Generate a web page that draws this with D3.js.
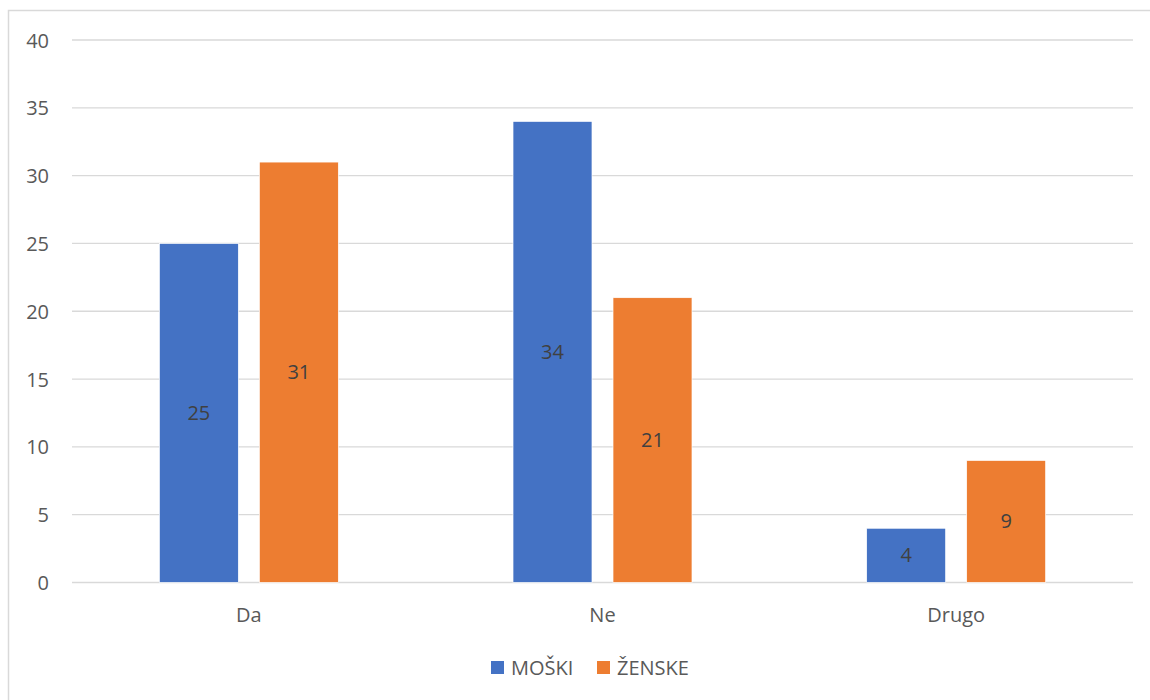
<!DOCTYPE html>
<html><head><meta charset="utf-8">
<script src="https://cdn.jsdelivr.net/npm/d3@7"></script>
<style>
body{margin:0;background:#fff;}
text{font-family:"Open Sans",sans-serif;}
</style></head>
<body><svg id="c" width="1150" height="700"></svg>
<script>
const categories = ["Da", "Ne", "Drugo"];
const seriesNames = ["MOŠKI", "ŽENSKE"];
const moski = [25, 34, 4];
const zenske = [31, 21, 9];
const yTicks = [0, 5, 10, 15, 20, 25, 30, 35, 40];
const colors = ["#4472C4", "#ED7D31"];

const svg = d3.select("#c");
// outer chart border
svg.append("rect").attr("x", 8.5).attr("y", 10.5).attr("width", 1160).attr("height", 720)
  .attr("fill", "none").attr("stroke", "#d9d9d9").attr("stroke-width", 1.5);

const L = 72, R = 1133, T = 40, B = 582.5;
const x = d3.scaleBand().domain(categories).range([L, R]).paddingInner(0).paddingOuter(0);
const y = d3.scaleLinear().domain([0, 40]).range([B, T]);

// gridlines
svg.append("g").selectAll("line").data(yTicks).join("line")
  .attr("x1", L).attr("x2", R).attr("y1", d => y(d)).attr("y2", d => y(d))
  .attr("stroke", "#d9d9d9").attr("stroke-width", 1.3);

// y axis labels
const yAxis = d3.axisLeft(y).tickValues(yTicks).tickSize(0).tickPadding(0);
const gy = svg.append("g").attr("transform", `translate(49,0)`).call(yAxis);
gy.select(".domain").remove();
gy.selectAll("text").attr("font-size", 20).attr("fill", "#595959")
  .attr("font-family", "Open Sans, sans-serif").attr("dy", "0.35em");

// x axis labels
const xAxis = d3.axisBottom(x).tickSize(0).tickPadding(0);
const gx = svg.append("g").attr("transform", `translate(0,${B})`).call(xAxis);
gx.select(".domain").remove();
gx.selectAll("text").attr("font-size", 20).attr("fill", "#595959")
  .attr("font-family", "Open Sans, sans-serif").attr("dy", null).attr("y", 39);

// bars
const barW = 79, gap = 21;
const inner = d3.scaleBand().domain(seriesNames).range([0, 2 * barW + gap]).paddingInner(gap / (barW + gap / 1)).paddingOuter(0);
const series = [moski, zenske];
const groupW = 2 * barW + gap;
const data = [];
categories.forEach((c, i) => {
  series.forEach((s, j) => data.push({cat: c, ser: seriesNames[j], v: s[i], j}));
});
const bx = d => x(d.cat) + (x.bandwidth() - groupW) / 2 + d.j * (barW + gap);

svg.append("g").selectAll("rect").data(data).join("rect")
  .attr("x", bx).attr("width", barW)
  .attr("y", d => y(d.v)).attr("height", d => y(0) - y(d.v))
  .attr("fill", d => colors[d.j]).attr("stroke", "#fff").attr("stroke-width", 0.7);

// data labels
svg.append("g").selectAll("text").data(data).join("text")
  .attr("x", d => bx(d) + barW / 2)
  .attr("y", d => (y(d.v) + y(0)) / 2)
  .attr("dy", "0.35em").attr("text-anchor", "middle")
  .attr("font-size", 20).attr("fill", "#404040").text(d => d.v);

// legend
const leg = svg.append("g");
const legX = [491, 597];
seriesNames.forEach((n, j) => {
  leg.append("rect").attr("x", legX[j]).attr("y", 661).attr("width", 13).attr("height", 13).attr("fill", colors[j]);
  leg.append("text").attr("x", legX[j] + 20).attr("y", 675).attr("font-size", 20)
    .attr("fill", "#595959").text(n);
});
</script></body></html>
